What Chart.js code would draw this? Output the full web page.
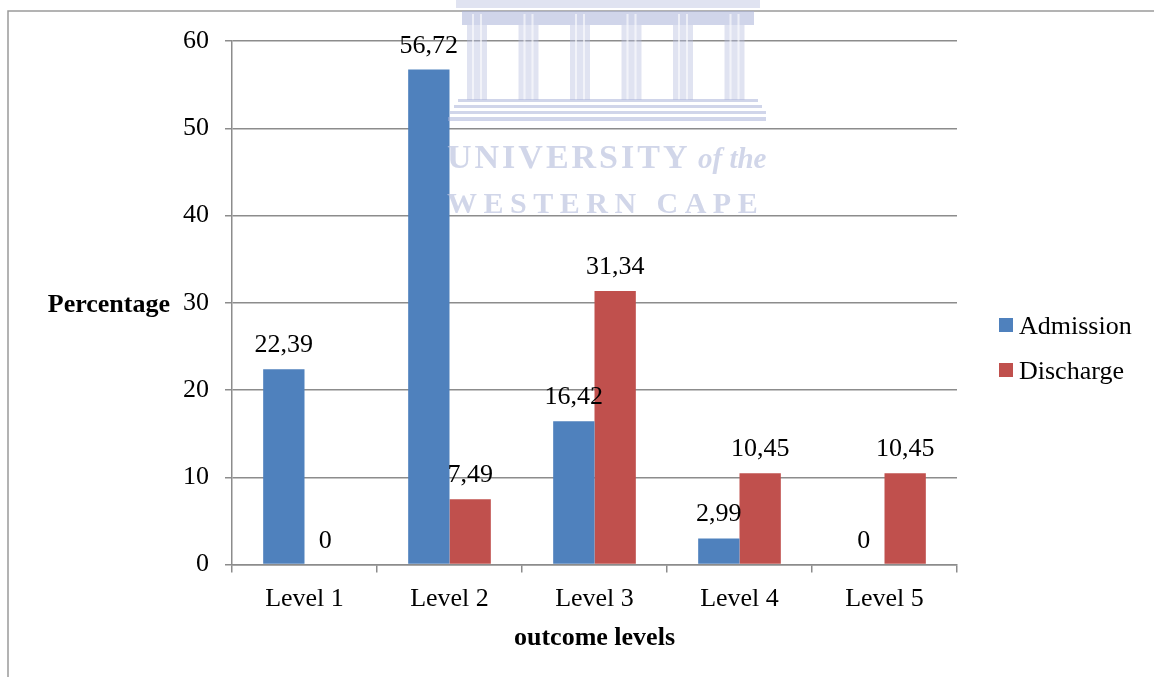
<!DOCTYPE html>
<html>
<head>
<meta charset="utf-8">
<script src="https://cdn.jsdelivr.net/npm/chart.js@4.4.1/dist/chart.umd.min.js"></script>
<style>
  html, body { margin: 0; padding: 0; background: #ffffff; }
  #wrap { width: 1154px; height: 677px; position: relative; }
</style>
</head>
<body>
<div id="wrap"><canvas id="outcomeChart"></canvas></div>
<script>
// Chart data
const categories = ['Level 1', 'Level 2', 'Level 3', 'Level 4', 'Level 5'];
const admission = [22.39, 56.72, 16.42, 2.99, 0];
const discharge = [0, 7.49, 31.34, 10.45, 10.45];
const seriesNames = ['Admission', 'Discharge'];
const yMin = 0;
const yMax = 60;
const yStep = 10;

const SERIF = '"Liberation Serif", "Times New Roman", serif';
const GRID = '#8c8c8c';

// Page frame, y-axis title, value labels, legend and watermark
const decorPlugin = {
    id: 'decor',
    beforeDraw(chart) {
        const ctx = chart.ctx;
        ctx.save();
        ctx.strokeStyle = '#9a9a9a';
        ctx.lineWidth = 1.5;
        ctx.beginPath();
        ctx.moveTo(1154, 11);
        ctx.lineTo(8, 11);
        ctx.lineTo(8, 677);
        ctx.stroke();
        ctx.restore();
    },
    afterDatasetsDraw(chart) {
        const ctx = chart.ctx;
        ctx.save();
        ctx.font = '26px ' + SERIF;
        ctx.fillStyle = '#000';
        ctx.textAlign = 'center';
        ctx.textBaseline = 'alphabetic';
        chart.data.datasets.forEach((ds, i) => {
            chart.getDatasetMeta(i).data.forEach((bar, j) => {
                const text = String(ds.data[j]).replace('.', ',');
                ctx.fillText(text, bar.x, bar.y - 17);
            });
        });
        ctx.restore();
    },
    afterDraw(chart) {
        const ctx = chart.ctx;
        ctx.save();

        // y-axis title, horizontal
        ctx.font = 'bold 26px ' + SERIF;
        ctx.fillStyle = '#000';
        ctx.textAlign = 'right';
        ctx.textBaseline = 'alphabetic';
        ctx.fillText('Percentage', 170, 312);

        // legend
        ctx.font = '26px ' + SERIF;
        ctx.textAlign = 'left';
        chart.data.datasets.forEach((ds, i) => {
            const top = 318 + i * 45;
            ctx.fillStyle = ds.backgroundColor;
            ctx.fillRect(999, top, 14, 14);
            ctx.fillStyle = '#000';
            ctx.fillText(ds.label, 1019, top + 16);
        });

        // watermark (building + name)
        const light = 'rgba(180, 188, 222, 0.42)';
        const mid = 'rgba(170, 178, 216, 0.55)';
        ctx.fillStyle = light;
        ctx.fillRect(456, 0, 304, 8);
        ctx.fillStyle = mid;
        ctx.fillRect(462, 11, 292, 14);
        const cols = [467, 518.5, 570, 621.5, 673, 724.5];
        cols.forEach(cx => {
            ctx.fillStyle = light;
            ctx.fillRect(cx, 25, 20, 75);
            ctx.fillStyle = 'rgba(255, 255, 255, 0.6)';
            ctx.fillRect(cx + 5, 14, 2, 86);
            ctx.fillRect(cx + 13, 14, 2, 86);
        });
        ctx.fillStyle = mid;
        ctx.fillRect(458, 99, 300, 3);
        ctx.fillRect(454, 105, 308, 3);
        ctx.fillRect(450, 111, 316, 3);
        ctx.fillRect(448, 117, 318, 4);

        ctx.fillStyle = 'rgba(190, 197, 224, 0.7)';
        ctx.font = 'bold 34px ' + SERIF;
        ctx.letterSpacing = '3px';
        ctx.fillText('UNIVERSITY', 447, 168);
        ctx.letterSpacing = '0px';
        ctx.font = 'italic bold 29px ' + SERIF;
        ctx.fillText('of the', 698, 168);
        ctx.font = 'bold 30px ' + SERIF;
        ctx.letterSpacing = '6.5px';
        ctx.fillText('WESTERN CAPE', 447, 213);
        ctx.letterSpacing = '0px';

        ctx.restore();
    }
};

const ctx = document.getElementById('outcomeChart').getContext('2d');
new Chart(ctx, {
    type: 'bar',
    data: {
        labels: categories,
        datasets: [
            {
                label: seriesNames[0],
                data: admission,
                backgroundColor: '#4F81BD',
                borderWidth: 0
            },
            {
                label: seriesNames[1],
                data: discharge,
                backgroundColor: '#C0504D',
                borderWidth: 0
            }
        ]
    },
    options: {
        responsive: true,
        maintainAspectRatio: false,
        animation: false,
        categoryPercentage: 0.57,
        barPercentage: 1,
        layout: {
            padding: { top: 41, right: 197, bottom: 0, left: 0 }
        },
        plugins: {
            legend: { display: false },
            tooltip: { enabled: false }
        },
        scales: {
            x: {
                grid: {
                    drawOnChartArea: false,
                    drawTicks: true,
                    tickLength: 8,
                    color: GRID,
                    lineWidth: 1.5
                },
                border: { display: true, color: GRID, width: 1.5 },
                ticks: {
                    color: '#000',
                    padding: 11,
                    font: { family: SERIF, size: 26 }
                },
                title: {
                    display: true,
                    text: 'outcome levels',
                    color: '#000',
                    font: { family: SERIF, size: 26, weight: 'bold' },
                    padding: { top: 8, bottom: 23 }
                },
                afterFit(scale) {
                    scale.height = 112.5;
                }
            },
            y: {
                min: yMin,
                max: yMax,
                ticks: {
                    stepSize: yStep,
                    color: '#000',
                    padding: 16,
                    font: { family: SERIF, size: 26 }
                },
                grid: {
                    color: GRID,
                    lineWidth: 1.5,
                    tickLength: 7
                },
                border: { display: true, color: GRID, width: 1.5 },
                afterFit(scale) {
                    scale.width = 232;
                }
            }
        }
    },
    plugins: [decorPlugin]
});
</script>
</body>
</html>
